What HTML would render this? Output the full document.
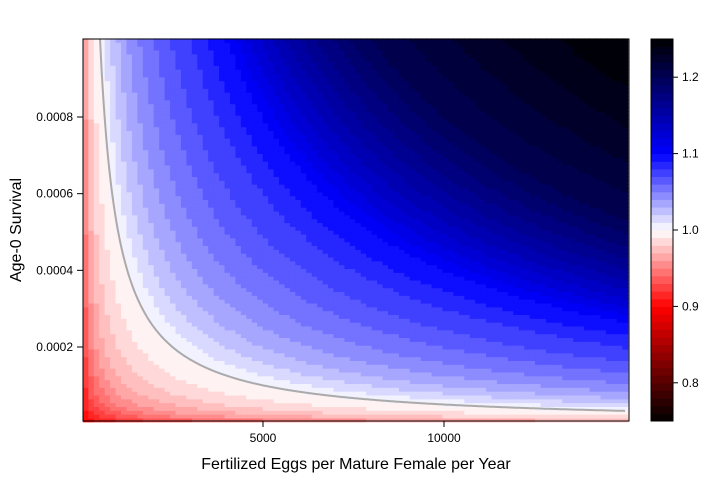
<!DOCTYPE html>
<html><head><meta charset="utf-8"><style>
body{margin:0;background:#fff;}
svg{display:block;font-family:"Liberation Sans",Arial,sans-serif;}
</style></head><body>
<svg id="chart" width="712" height="484" viewBox="0 0 712 484">
<defs><clipPath id="pc"><rect x="83" y="39" width="546" height="382"/></clipPath></defs>
<g id="cells"></g>
<path id="contour" fill="none" stroke="#aaaaaa" stroke-width="2" clip-path="url(#pc)"/>
<rect x="83" y="39" width="546" height="382" fill="none" stroke="#000" stroke-width="1"/>
<g id="axes"></g>
<g id="cbar"></g>
<text x="356" y="469" font-size="16" text-anchor="middle">Fertilized Eggs per Mature Female per Year</text>
<text transform="translate(21,230) rotate(-90)" font-size="16" text-anchor="middle">Age-0 Survival</text>
</svg>
<script>
// estimated lambda as a function of eggs*survival
const productLevels = [0.001, 0.01, 0.036, 0.2, 0.5, 1, 2, 3, 4, 8, 15];
const lambdaValues = [0.9, 0.92, 0.943, 0.98, 1.0, 1.03, 1.06, 1.08, 1.1, 1.2, 1.25];
const eggsMin = 100, eggsMax = 15000, nEggs = 100;
const survMin = 0.00001, survMax = 0.001, nSurv = 100;
const xTicks = [5000, 10000];
const yTicks = [0.0002, 0.0004, 0.0006, 0.0008];
const yTickLabels = ["0.0002", "0.0004", "0.0006", "0.0008"];
const cTicks = [0.8, 0.9, 1.0, 1.1, 1.2];
const cTickLabels = ["0.8", "0.9", "1.0", "1.1", "1.2"];
const cMin = 0.75, cMax = 1.25, cStep = 0.01;
const contourLevel = 1.0;

const NS = "http://www.w3.org/2000/svg";
const xs = v => 263 + (v - 5000) * 0.0362;
const ys = v => 347 - (v - 0.0002) * 383333;
const cs = v => 421 - (v - cMin) / (cMax - cMin) * 382;

function lambdaOf(p) {
  const lp = Math.log(Math.max(p, 1e-9));
  if (p <= productLevels[0]) return lambdaValues[0];
  for (let i = 1; i < productLevels.length; i++) {
    if (p <= productLevels[i]) {
      const a = Math.log(productLevels[i-1]), b = Math.log(productLevels[i]);
      const t = (lp - a) / (b - a);
      return lambdaValues[i-1] + t * (lambdaValues[i] - lambdaValues[i-1]);
    }
  }
  return lambdaValues[lambdaValues.length-1];
}
function productAt(level) {
  for (let i = 1; i < lambdaValues.length; i++) {
    if (level <= lambdaValues[i]) {
      const t = (level - lambdaValues[i-1]) / (lambdaValues[i] - lambdaValues[i-1]);
      return Math.exp(Math.log(productLevels[i-1]) + t * (Math.log(productLevels[i]) - Math.log(productLevels[i-1])));
    }
  }
  return productLevels[productLevels.length-1];
}
function colorOf(v) {
  let lv = Math.floor((v - cMin) / cStep);
  lv = Math.max(0, Math.min(Math.round((cMax - cMin)/cStep) - 1, lv));
  const m = cMin + (lv + 0.5) * cStep;
  let r, g, b;
  if (m < 0.9) { const t = (m - 0.75) / 0.15; r = 255*t; g = 0; b = 0; }
  else if (m < 1.0) { const t = (m - 0.9) / 0.1; r = 255; g = 255*t; b = 255*t; }
  else if (m < 1.1) { const t = (m - 1.0) / 0.1; r = 255*(1-t); g = 255*(1-t); b = 255; }
  else { const t = (m - 1.1) / 0.15; r = 0; g = 0; b = 255*(1-t); }
  return `rgb(${Math.round(r)},${Math.round(g)},${Math.round(b)})`;
}

const cells = document.getElementById('cells');
const de = (eggsMax - eggsMin) / (nEggs - 1), dsv = (survMax - survMin) / (nSurv - 1);
for (let i = 0; i < nEggs; i++) {
  const e = eggsMin + i * de;
  const x0 = xs(e - de/2), x1 = xs(e + de/2);
  for (let j = 0; j < nSurv; j++) {
    const s = survMin + j * dsv;
    const y0 = ys(s + dsv/2), y1 = ys(s - dsv/2);
    const r = document.createElementNS(NS, 'rect');
    r.setAttribute('x', x0.toFixed(2)); r.setAttribute('y', y0.toFixed(2));
    r.setAttribute('width', (x1 - x0 + 0.6).toFixed(2)); r.setAttribute('height', (y1 - y0 + 0.6).toFixed(2));
    r.setAttribute('fill', colorOf(lambdaOf(e * s)));
    
    
    cells.appendChild(r);
  }
}
// contour
const pc = productAt(contourLevel);
let d = "";
for (let k = 0; k <= 600; k++) {
  const e = eggsMin + (eggsMax - eggsMin) * k / 600;
  let s = pc / e;
  if (s > survMax * 1.3) continue;
  d += (d ? "L" : "M") + xs(e).toFixed(1) + "," + ys(s).toFixed(1);
}
document.getElementById('contour').setAttribute('d', d);

const axes = document.getElementById('axes');
function line(g, x1, y1, x2, y2, name) {
  const l = document.createElementNS(NS, 'line');
  l.setAttribute('x1', x1); l.setAttribute('y1', y1); l.setAttribute('x2', x2); l.setAttribute('y2', y2);
  l.setAttribute('stroke', '#000');
  
  
  g.appendChild(l);
}
function text(g, x, y, s, anchor, name) {
  const t = document.createElementNS(NS, 'text');
  t.setAttribute('x', x); t.setAttribute('y', y); t.setAttribute('font-size', '12');
  t.setAttribute('text-anchor', anchor); t.textContent = s;
  
  
  g.appendChild(t);
}
xTicks.forEach(v => {
  const x = xs(v);
  line(axes, x, 421, x, 427, 'x-tick');
  text(axes, x, 442, String(v), 'middle', 'x-tick-label');
});
yTicks.forEach((v, i) => {
  const y = ys(v);
  line(axes, 83, y, 77, y, 'y-tick');
  text(axes, 73, y + 4, yTickLabels[i], 'end', 'y-tick-label');
});
const cbar = document.getElementById('cbar');
const nLev = Math.round((cMax - cMin) / cStep);
for (let k = 0; k < nLev; k++) {
  const v0 = cMin + k * cStep, v1 = v0 + cStep;
  const r = document.createElementNS(NS, 'rect');
  r.setAttribute('x', 651); r.setAttribute('y', cs(v1).toFixed(2));
  r.setAttribute('width', 22); r.setAttribute('height', (cs(v0) - cs(v1) + 0.5).toFixed(2));
  r.setAttribute('fill', colorOf(v0 + cStep/2));
  
  
  cbar.appendChild(r);
}
const fr = document.createElementNS(NS, 'rect');
fr.setAttribute('x', 651); fr.setAttribute('y', 39); fr.setAttribute('width', 22); fr.setAttribute('height', 382);
fr.setAttribute('fill', 'none'); fr.setAttribute('stroke', '#000');


cbar.appendChild(fr);
cTicks.forEach((v, i) => {
  const y = cs(v);
  line(cbar, 673, y, 678, y, 'colorbar-tick');
  text(cbar, 682, y + 4, cTickLabels[i], 'start', 'colorbar-tick-label');
});
</script>
</body></html>
